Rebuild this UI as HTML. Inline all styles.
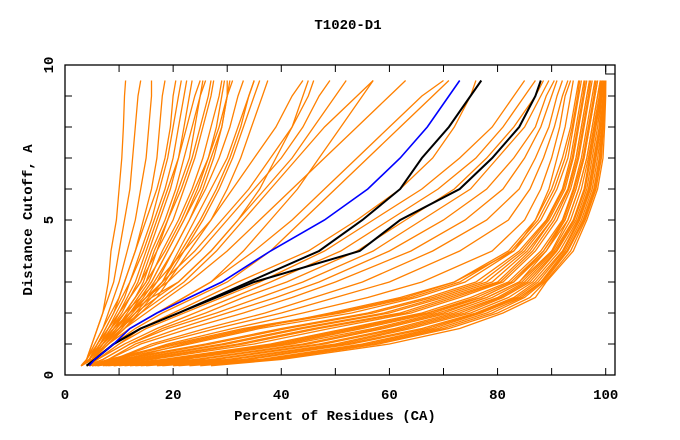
<!DOCTYPE html>
<html><head><meta charset="utf-8"><style>
html,body{margin:0;padding:0;background:#fff;}
svg{display:block;}
text{font-family:"Liberation Mono",monospace;font-weight:bold;fill:#000;}
</style></head><body>
<svg id="chart" width="680" height="440">
<text x="348" y="29" font-size="14" text-anchor="middle">T1020-D1</text>
<text x="335" y="420" font-size="14" text-anchor="middle">Percent of Residues (CA)</text>
<text transform="translate(32,220) rotate(-90)" font-size="14" text-anchor="middle">Distance Cutoff, A</text>
<g id="lines"></g>
<g id="axes"></g>
</svg>
<script>
const cutoffs=[0.3,0.5,1,1.5,2,2.5,3,4,5,6,7,8,9,9.5];
const xTicks=[0,20,40,60,80,100];
const yTicks=[0,5,10];
const orangeModels=[
[3,4,5,6,7,7.5,8,8.5,9.5,10,10.5,10.8,11,11.2],
[3,4,5,6,7,8,9,10,11,12,12.5,13,13.5,14],
[3,4,5.5,7,8,9,10,11.5,13,14,15,15.5,16,16],
[3,4,6,7.5,9,10,11,13,14.5,16,17,17.5,18,18.5],
[3,4.5,6,8,9.5,11,12,14,16,17.5,19,20,21,21.5],
[3,4.5,6.5,8,10,11.5,13,15,17,19,21,22,23,23.5],
[3,4.5,6.5,8.5,10.5,12,14,16,18.5,20.5,22,23.5,25,25.5],
[3,4.5,7,9,11,13,15,17,20,22,24,25.5,27,27.5],
[3,4.5,7,9.5,11.5,13.5,15.5,18,21,23.5,25.5,27,28.5,29],
[3,5,7,10,12,14,16,19,22,25,27,29,30,30.5],
[3,5,7.5,10,12.5,15,17,20,23,26,28.5,30.5,32,33],
[3,5,7.5,10.5,13,15.5,18,21,24,27,30,32,34,35],
[3,5,8,11,13.5,16,18.5,22,25.5,28.5,31,33,35,36],
[3,5,8,11,14,17,19,23,27,30,32.5,34.5,36.5,37.5],
[3,4.5,6.5,8.5,10,12,14,17,19,21,23,24,25,26],
[3,4.5,6,8,10,12,13.5,15.5,17.5,19.5,21,22.5,24,25],
[3,4.5,7,9,11,13,15,18.5,21.5,24,26.5,28.5,30,30],
[3,5,7,9.5,12,14.5,16.5,20,23,25.5,27.5,29,30,31],
[3,4,5.5,7,8.5,10,11,13,15,17,18.5,19.5,20,20.5],
[3,4.5,6.5,9,11,13,14.5,16.5,19,21.5,23.5,25,26.5,27],
[3,5,7,9.5,12,14,16,19,22,24.5,26.5,28,29,29.5],
[3,4.5,6,7.5,9,10.5,12,14.5,16.5,18.5,20,21,22,22.5],
[3,5,8,10.5,13,15.5,18,21.5,25,28,30.5,32.5,34,35],
[3,5,8,12,17,22,27,35,42,48,54,60,66,70],
[3,5,8,11,15,19,23,30,36,42,48,54,60,63],
[3,5,7,10,14,18,22,28,33,38,43,48,54,57],
[3,4.5,7,10,13,17,21,27,32,37,42,46,50,52],
[3,4.5,7,9,12,15,19,25,30,35,40,44,47,49],
[3,4.5,6.5,9,12,15,18,24,29,34,38,42,45,46],
[3,4.5,6.5,8.5,11,14,17,22,27,31,35,39,42,44],
[3,5,8,12,17,22,27,33,38,43,47,51,55,57],
[3,5,9,13,18,24,30,38,44,50,56,62,68,71],
[3,4.5,6.5,9,12,16,21,27,32,36,39,42,44,45],
[4,6,10,15,22,29,36,48,57,66,73,79,83,85],
[4,6,11,17,24,31,38,51,60,69,76,81,85,87],
[4,7,12,18,26,33,41,54,63,72,78,83,87,88.5],
[4,7,12,19,28,36,44,57,66,75,80,85,88,89.5],
[5,8,13,21,30,39,47,60,70,78,83,87,89,90.5],
[5,8,14,23,33,42,50,64,74,81,85,88,90,91],
[5,9,16,26,37,46,55,68,78,84,87,89.5,91,92],
[5,9,17,28,40,50,60,73,82,86,88.5,90.5,92,93],
[5,10,19,31,44,56,66,79,85,88,90,91.5,92.5,93.5],
[6,11,22,35,49,62,72,83,87,89.5,91,92.5,93.5,94],
[4,6,10,14,20,26,32,45,54,62,68,72,75,76],
[4,8,20,33,50,63,72,82,87,90,92,93.5,94.5,95],
[4,8.5,21,34,51,64,73,82.5,87.5,90.5,92.5,93.8,94.8,95.2],
[4,9,23,36,53,65,74,83,88,91,93,94,95,95.5],
[4.5,10,26,40,56,67,76,84,89,92,93.5,94.5,95.5,96],
[4.5,11,27,41,57,68,77,84.5,89.2,92.2,93.8,94.8,95.8,96.2],
[5,12,29,43,59,69,78,85,89.5,92.5,94,95,96,96.5],
[6,13,30,44,60,70,79,85.5,90,93,94.5,95.5,96.5,97],
[5,14,32,46,62,71,80,86,90,93,94.5,95.5,96.5,97],
[5.5,15,33,47,63,72,80.5,86.5,90.5,93.2,94.8,95.8,96.8,97.2],
[6,16,35,49,64,73,81,87,91,93.5,95,96,97,97.5],
[7,18,38,52,66,75,82,88,92,94,95.5,96.5,97.5,98],
[7.5,19,39,53,67,76,82.5,88.5,92.2,94.2,95.8,96.8,97.8,98.2],
[9,20,40,54,67,77,83,88.5,92.5,94.5,96,97,98,98.5],
[8,21,41,55,68,77,83,89,92.5,94.5,96,97,98,98.5],
[9,22,42,57,69,78,84,89,93,95,96.5,97.5,98.5,99],
[10,24,44,58,70,78,84,90,93,95,96.5,97.5,98.5,99],
[11,25,45,59,71,79,84.5,90.2,93.5,95.5,96.8,97.8,98.8,99.1],
[12,27,47,61,72,80,85,90.5,94,96,97,98,99,99.2],
[13,28,48,62,73,80.5,85.5,90.8,94.2,96.2,97.2,98.2,99.1,99.3],
[14,30,50,63,74,81,86,91,94.5,96.5,97.5,98.5,99.2,99.5],
[15,31,51,64,75,82,86.5,91.5,94.8,96.8,97.8,98.8,99.3,99.6],
[17,33,52,66,76,83,87,92,95,97,98,99,99.5,99.7],
[18,34,53,67,76.5,83.5,87.5,92.2,95.2,97.2,98.2,99.1,99.6,99.7],
[20,36,55,68,77,84,88,92.5,95.5,97.5,98.5,99.3,99.7,99.8],
[21,37,56,69,78,84.5,88.2,92.8,95.8,97.8,98.8,99.4,99.8,99.9],
[23,38,57,70,79,85,88.5,93,96,98,99,99.5,99.8,100],
[25,39,58,71,80,86,88.8,93.5,96.2,98.2,99.2,99.6,99.9,100],
[27,40,60,73,81,87,89,94,96.5,98.5,99.5,99.8,100,100]
];
const blackModel1=[4,5.5,9,14,21,27.5,34,47,55,62,66,71,75,77];
const blackModel2=[4,5.5,9,14,21,28,35,54.5,62,73,79,84,87,88];
const blueModel=[4.5,5.5,9,12,17,23,29,38,48,56,62,67,71,73];

const X0=65,X1=605.7,Y0=375,Y1=65;
function sx(v){return X0+(X1-X0)*v/100;}
function sy(v){return Y0-(Y0-Y1)*v/10;}
const NS='http://www.w3.org/2000/svg';
const lines=document.getElementById('lines');
const axes=document.getElementById('axes');
function drawLine(arr,color,w,name){
  const p=document.createElementNS(NS,'polyline');
  p.setAttribute('points',arr.map((x,i)=>sx(x).toFixed(1)+','+sy(cutoffs[i]).toFixed(1)).join(' '));
  p.setAttribute('fill','none');
  p.setAttribute('stroke',color);
  p.setAttribute('stroke-width',w);
  
  
  lines.appendChild(p);
}
orangeModels.forEach((m,i)=>drawLine(m,'#ff8000',1.3,'model-line-'+i));
drawLine(blackModel1,'#000',2,'black-model-line-1');
drawLine(blackModel2,'#000',2,'black-model-line-2');
drawLine(blueModel,'#0000ff',1.6,'blue-model-line');

function el(tag,attrs){const e=document.createElementNS(NS,tag);for(const k in attrs)e.setAttribute(k,attrs[k]);axes.appendChild(e);return e;}
const frame=el('rect',{x:65,y:65,width:550,height:310,fill:'none',stroke:'#000','stroke-width':1.3});


const corner=el('rect',{x:605.7,y:65,width:9.3,height:9,fill:'none',stroke:'#000','stroke-width':1});


for(let v=0;v<=100;v+=10){
  const t1=el('line',{x1:sx(v),x2:sx(v),y1:375,y2:368,stroke:'#000'});
  
  
  const t2=el('line',{x1:sx(v),x2:sx(v),y1:65,y2:72,stroke:'#000'});
  
  
}
for(let v=0;v<=10;v++){
  const t1=el('line',{x1:65,x2:72,y1:sy(v),y2:sy(v),stroke:'#000'});
  
  
  const t2=el('line',{x1:615,x2:608,y1:sy(v),y2:sy(v),stroke:'#000'});
  
  
}
xTicks.forEach(v=>{
  const t=el('text',{x:sx(v),y:399,'font-size':14,'text-anchor':'middle'});
  t.textContent=v;
  
  
});
yTicks.forEach(v=>{
  const t=el('text',{transform:'translate(53,'+sy(v)+') rotate(-90)','font-size':14,'text-anchor':'middle'});
  t.textContent=v;
  
  
});
</script>
</body></html>
